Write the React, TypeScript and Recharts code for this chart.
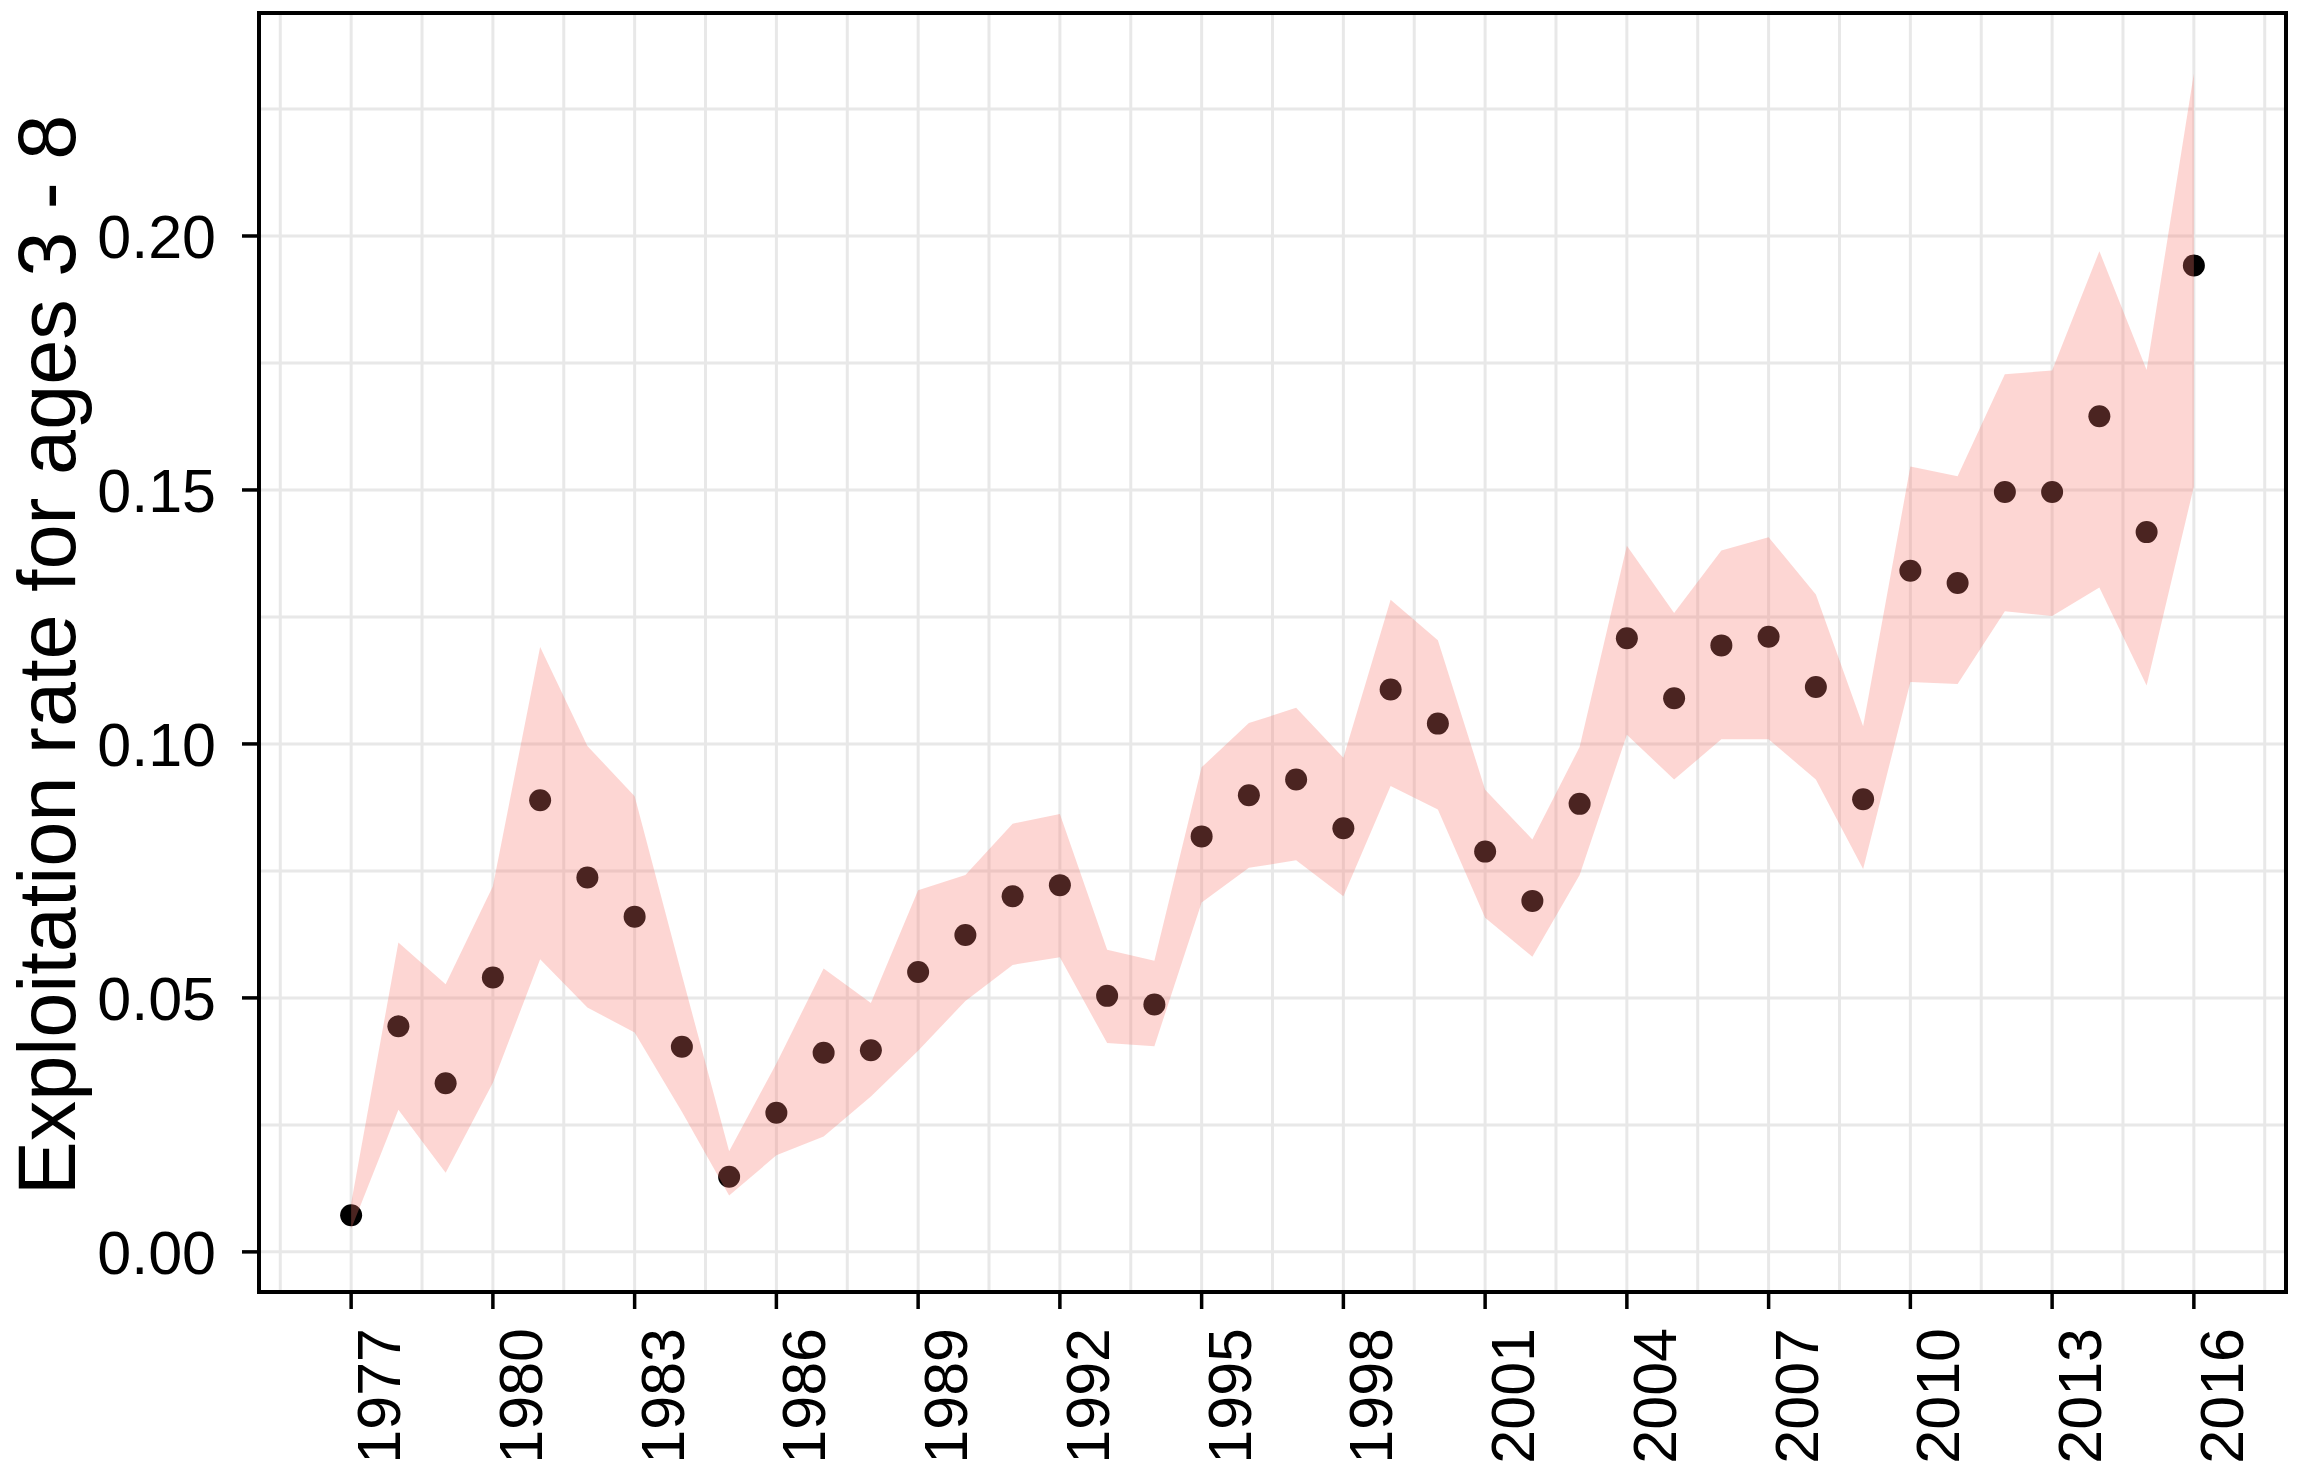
import {
  Area,
  CartesianGrid,
  ComposedChart,
  ReferenceArea,
  Scatter,
  XAxis,
  YAxis,
} from 'recharts';

const years = [
  1977, 1978, 1979, 1980, 1981, 1982, 1983, 1984, 1985, 1986,
  1987, 1988, 1989, 1990, 1991, 1992, 1993, 1994, 1995, 1996,
  1997, 1998, 1999, 2000, 2001, 2002, 2003, 2004, 2005, 2006,
  2007, 2008, 2009, 2010, 2011, 2012, 2013, 2014, 2015, 2016,
];

const estimate = [
  0.0072, 0.0444, 0.0332, 0.054, 0.0889, 0.0737, 0.066, 0.0404, 0.0148, 0.0274,
  0.0392, 0.0397, 0.0551, 0.0624, 0.07, 0.0722, 0.0504, 0.0487, 0.0818, 0.0899,
  0.093, 0.0834, 0.1107, 0.104, 0.0788, 0.0691, 0.0882, 0.1208, 0.109, 0.1194,
  0.1211, 0.1112, 0.0891, 0.1341, 0.1317, 0.1496, 0.1496, 0.1645, 0.1417, 0.1942,
];

const lower = [
  0.0045, 0.028, 0.0156, 0.0333, 0.0576, 0.0481, 0.0432, 0.0276, 0.0111, 0.019,
  0.0227, 0.0306, 0.0396, 0.0494, 0.0565, 0.058, 0.0411, 0.0405, 0.0688, 0.0756,
  0.0771, 0.07, 0.0917, 0.0871, 0.0658, 0.0581, 0.0742, 0.1018, 0.093, 0.1009,
  0.1009, 0.093, 0.0754, 0.1122, 0.1118, 0.1261, 0.1252, 0.1308, 0.1115, 0.1507,
];

const upper = [
  0.0095, 0.0609, 0.0527, 0.072, 0.1191, 0.0996, 0.0897, 0.0545, 0.0198, 0.0371,
  0.0558, 0.049, 0.0712, 0.0742, 0.0843, 0.0862, 0.0595, 0.0573, 0.0954, 0.1041,
  0.1071, 0.0973, 0.1284, 0.1204, 0.091, 0.0812, 0.0994, 0.139, 0.1258, 0.1381,
  0.1407, 0.1294, 0.1035, 0.1546, 0.1527, 0.1728, 0.1735, 0.197, 0.1736, 0.232,
];

const xTicks = [1977, 1980, 1983, 1986, 1989, 1992, 1995, 1998, 2001, 2004, 2007, 2010, 2013, 2016];
const xMinor = [1975.5, 1978.5, 1981.5, 1984.5, 1987.5, 1990.5, 1993.5, 1996.5, 1999.5, 2002.5, 2005.5, 2008.5, 2011.5, 2014.5, 2017.5];
const yTicks = [0, 0.05, 0.1, 0.15, 0.2];
const yMinor = [0.025, 0.075, 0.125, 0.175, 0.225];

const X_DOMAIN: [number, number] = [1975.05, 2017.95];
const Y_DOMAIN: [number, number] = [-0.0079, 0.2439];
const FONT = '"Liberation Sans", Arial, sans-serif';
const yTitle = 'Exploitation rate for ages 3 - 8';

const data = years.map((year, i) => ({
  year,
  estimate: estimate[i],
  band: [lower[i], upper[i]],
}));

const renderXTick = (props: any) => {
  const { x, y, payload } = props;
  const bx = x + 49;
  return (
    <text
      x={bx}
      y={y}
      transform={`rotate(-90 ${bx} ${y})`}
      textAnchor="end"
      fontSize={61}
      fontFamily={FONT}
      fill="#000"
    >
      {payload.value}
    </text>
  );
};

const renderYTitle = () => (
  <text
    x={75}
    y={655}
    transform="rotate(-90 75 655)"
    textAnchor="middle"
    fontSize={81}
    fontFamily={FONT}
    fill="#000"
  >
    {yTitle}
  </text>
);

const renderPoint = (props: any) => (
  <circle cx={props.cx} cy={props.cy} r={11} fill="#000" />
);

export default function App() {
  return (
    <div style={{ position: 'absolute', left: 0, top: 0, width: 2299, height: 1481, background: '#fff' }}>
      <ComposedChart
        width={2299}
        height={1481}
        data={data}
        margin={{ top: 13, right: 13, bottom: 0, left: 0 }}
      >
        <CartesianGrid
          stroke="#e8e8e8"
          strokeWidth={3}
          horizontalValues={[...yTicks, ...yMinor]}
          verticalValues={[...xTicks, ...xMinor]}
        />
        <XAxis
          dataKey="year"
          type="number"
          domain={X_DOMAIN}
          ticks={xTicks}
          interval={0}
          allowDataOverflow
          height={189}
          axisLine={false}
          tickSize={17}
          tickMargin={19}
          tickLine={{ stroke: '#000', strokeWidth: 3.5 }}
          tick={renderXTick}
        />
        <YAxis
          type="number"
          domain={Y_DOMAIN}
          ticks={yTicks}
          interval={0}
          allowDataOverflow
          width={259}
          axisLine={false}
          tickSize={17}
          tickMargin={26}
          tickLine={{ stroke: '#000', strokeWidth: 3.5 }}
          tick={{ fill: '#000', fontSize: 61, fontFamily: FONT }}
          tickFormatter={(v: number) => v.toFixed(2)}
          label={{ content: renderYTitle }}
        />
        <Scatter dataKey="estimate" shape={renderPoint} isAnimationActive={false} />
        <Area
          type="linear"
          dataKey="band"
          stroke="none"
          fill="#F8766D"
          fillOpacity={0.3}
          dot={false}
          activeDot={false}
          isAnimationActive={false}
          zIndex={700}
        />
        <ReferenceArea
          x1={X_DOMAIN[0]}
          x2={X_DOMAIN[1]}
          y1={Y_DOMAIN[0]}
          y2={Y_DOMAIN[1]}
          fill="none"
          stroke="#000"
          strokeWidth={4}
          ifOverflow="visible"
        />
      </ComposedChart>
    </div>
  );
}
